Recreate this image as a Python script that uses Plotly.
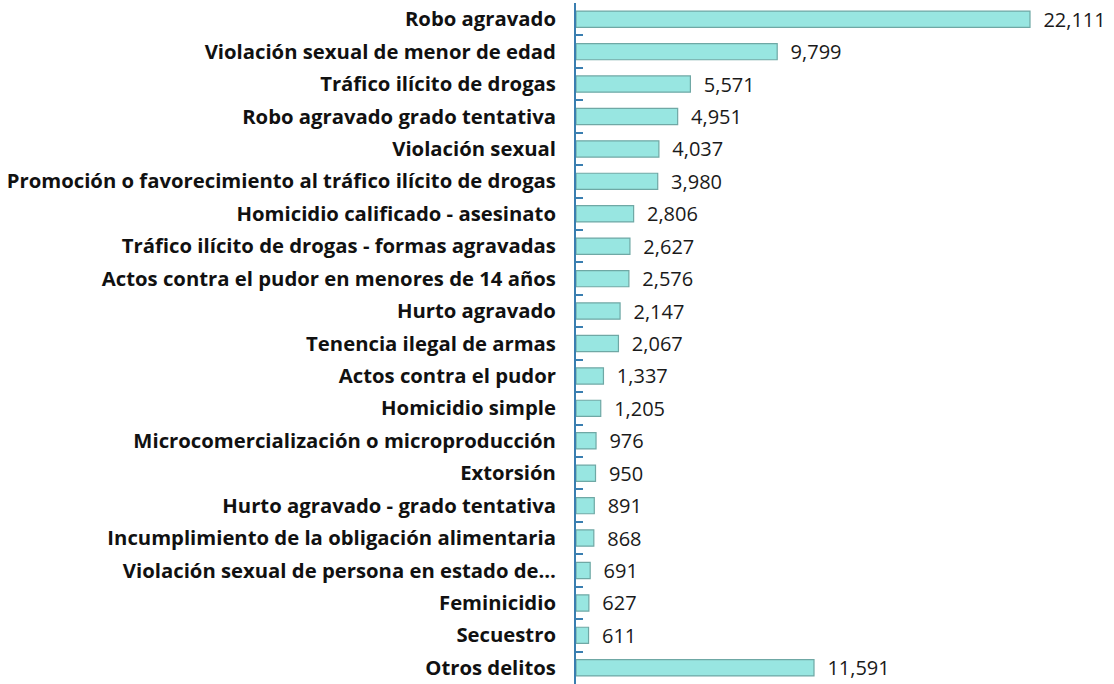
import plotly.graph_objects as go

categories = [
    "Robo agravado",
    "Violación sexual de menor de edad",
    "Tráfico ilícito de drogas",
    "Robo agravado grado tentativa",
    "Violación sexual",
    "Promoción o favorecimiento al tráfico ilícito de drogas",
    "Homicidio calificado - asesinato",
    "Tráfico ilícito de drogas - formas agravadas",
    "Actos contra el pudor en menores de 14 años",
    "Hurto agravado",
    "Tenencia ilegal de armas",
    "Actos contra el pudor",
    "Homicidio simple",
    "Microcomercialización o microproducción",
    "Extorsión",
    "Hurto agravado - grado tentativa",
    "Incumplimiento de la obligación alimentaria",
    "Violación sexual de persona en estado de…",
    "Feminicidio",
    "Secuestro",
    "Otros delitos",
]
values = [22111, 9799, 5571, 4951, 4037, 3980, 2806, 2627, 2576, 2147, 2067,
          1337, 1205, 976, 950, 891, 868, 691, 627, 611, 11591]

labels = ["  " + f"{v:,}" for v in values]

fig = go.Figure(go.Bar(
    y=categories,
    x=values,
    orientation="h",
    width=0.5,
    marker=dict(color="#98E6E1", line=dict(color="#6FA8A5", width=1.2)),
    text=labels,
    textposition="outside",
    constraintext="none",
    textfont=dict(family="Open Sans", size=20, color="#1a1a1a"),
    cliponaxis=False,
    hoverinfo="skip",
))

fig.update_layout(
    width=1114, height=684,
    margin=dict(l=576, r=14, t=3, b=0),
    paper_bgcolor="white", plot_bgcolor="white",
    showlegend=False,
    xaxis=dict(range=[0, 25520], visible=False, showgrid=False, zeroline=False),
    yaxis=dict(
        autorange="reversed",
        automargin=False,
        showline=True, linecolor="#3A7EB0", linewidth=2,
        ticks="inside", tickson="boundaries", ticklen=7, tickcolor="#3A7EB0", tickwidth=1.5,
        ticklabelstandoff=14,
        tickfont=dict(family="Open Sans", size=20.3, color="#111111", weight="bold"),
        showgrid=False,
    ),
)

fig.write_html("out.html", config={"displayModeBar": False},
               post_script="document.body.style.margin='0';")
